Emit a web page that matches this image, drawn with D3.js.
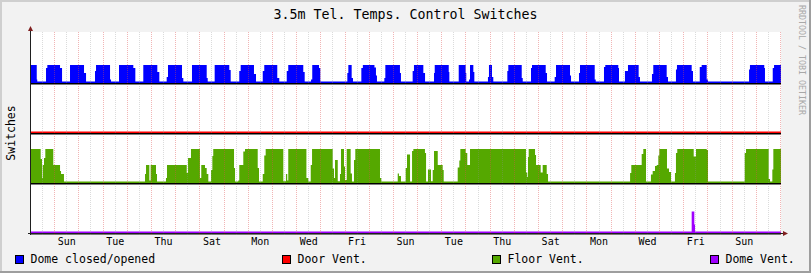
<!DOCTYPE html>
<html>
<head>
<meta charset="utf-8">
<script src="https://cdn.jsdelivr.net/npm/d3@7"></script>
<style>
  body { margin: 0; background: #f2f2f2; }
  svg { display: block; }
  text { font-family: "DejaVu Sans Mono", monospace; }
</style>
</head>
<body>
<div id="chart"></div>
<script>
// graph window: Sat 01:00 UTC + 31 days, values keyed by hours since START
const START = Date.UTC(2011, 11, 31, 1, 0);
const SPAN_HOURS = 744;

const seriesNames = ["Dome closed/opened", "Door Vent.", "Floor Vent.", "Dome Vent."];
const seriesColors = ["#0000ff", "#ff0000", "#55a800", "#9f00ff"];
const seriesOffsets = [3, 2, 1, 0];

const dayLabels = ["Sun", "Tue", "Thu", "Sat", "Mon", "Wed", "Fri",
                   "Sun", "Tue", "Thu", "Sat", "Mon", "Wed", "Fri", "Sun"];

// [hours, value] step points
const domeSwitch = [
    [0,.36],[5.7,.07],[6.2,0],
    [14.9,.3],[16.2,.36],[28.8,.3],[30.8,0],
    [38.7,.36],[52.6,.2],[54.6,0],
    [63.5,.24],[64.5,.36],[78.4,.07],[79.4,0],
    [87.3,.36],[101.5,.3],[103.5,0],
    [111.4,.36],[125.3,.22],[127.3,0],
    [134.6,.12],[135.9,.36],[149.8,.1],[151.1,0],
    [159.7,.36],[174.3,.1],[175.3,0],
    [182.2,.36],[196.7,.26],[198.1,0],
    [206.6,.24],[208,.36],[221.2,.18],[223.2,0],
    [229.9,.24],[231.4,.36],[244.3,.1],[246.3,0],
    [253.7,.24],[255.2,.36],[270.1,.22],[271.5,0],
    [277.8,.07],[279,.36],[285.7,.3],[287,0],
    [313.8,.2],[314.8,.36],[318.1,.1],[319.4,0],
    [327.7,.3],[329.2,.36],[340.7,.31],[342.2,.15],[343.2,0],
    [350.5,.1],[351.5,.36],[366,.2],[367,0],
    [378.6,.24],[379.9,.36],[389.2,.2],[390.9,0],
    [399.8,.2],[400.5,.36],[414.4,.22],[415,0],
    [424.3,.36],[431.2,.2],[431.8,0],
    [434.5,.07],[435.5,.36],[438.8,.22],[439.8,0],
    [453.3,.12],[454.3,.36],[457.3,.12],[458.6,0],
    [472.5,.24],[473.5,.36],[486.8,.1],[487.8,0],
    [496,.3],[497,.36],[510.6,.2],[511.9,0],
    [519.5,.12],[520.8,.36],[534.7,.15],[535.7,0],
    [543.6,.2],[544.6,.36],[559.2,.07],[560.2,0],
    [568.4,.32],[569.7,.36],[582.6,.3],[583.3,0],
    [589.2,.24],[592.2,.36],[602.8,.12],[604.1,0],
    [616,.18],[617.3,.36],[630.6,.12],[631.9,0],
    [639.8,.27],[640.8,.36],[655.4,.24],[656.7,0],
    [663.4,.32],[665.3,.36],[670.3,.07],[671.6,0],
    [712.3,.27],[713.2,.36],[727.4,.3],[728.1,0],
    [735.8,.3],[737.1,.36],[744,.36]
];

const doorVent = [[0,0],[744,0]];

const floorVent = [
    [0,.68],[9.6,.48],[10.9,.1],[11.6,.36],[12.9,.5],[14.2,.68],[22.1,.36],[28.8,.24],[29.8,.18],[32.7,0],
    [113.1,.18],[114.1,.36],[117.4,.05],[118.7,.36],[124,.18],[125,0],
    [133.9,.1],[134.9,.36],[154.5,.2],[155.8,.5],[158.7,.68],[167.6,.1],[168.9,.36],[172.6,.3],[174.3,.18],[175.9,0],
    [178.6,.26],[179.9,.54],[180.8,.68],[201.4,.3],[202.4,0],
    [205.6,.05],[206.6,.36],[210.6,.63],[212.3,.68],[224.9,.3],[226.2,0],
    [229.9,.18],[231.4,.55],[232.8,.68],[250.3,.03],[252.9,.18],[254.2,.05],[255.2,.68],
    [273.2,.1],[275.1,0],[277.5,.36],[278.8,.68],[299.3,.29],[300.6,.1],[301.6,.46],[304.3,.03],
    [306.5,.18],[307.5,.68],[310.5,.33],[311.5,.06],[313.2,.68],[317.1,.19],[318.4,.02],[320.4,.46],
    [321.7,.68],[346.2,.1],[347.5,0],
    [363.8,.19],[365,.14],[367,0],[371.7,.3],[373,.57],[376,0],[378,.64],[379.3,.68],[390.8,.6],[391.9,0],
    [393.8,.27],[396.8,.03],[398.5,.26],[399.8,.64],[403.5,.36],[408.4,.26],[409.4,0],
    [423.3,.31],[424.9,.45],[425.9,.68],[431.2,.6],[432.8,.36],[435.5,.68],[491,.21],[492.3,.12],
    [493,.52],[493.7,.68],[500,.56],[501,.36],[505.6,.21],[507.6,.36],[511.6,.18],[512.9,0],
    [594.3,.2],[595.5,.36],[605.8,.58],[607.4,.68],[610.1,0],[615,.17],[616.7,.24],[619,.34],
    [620.7,.36],[622.3,.55],[623.3,.68],[630.9,.29],[632.9,.22],[634.9,0],
    [638.8,.2],[639.8,.6],[641.1,.68],[657.4,.53],[659.7,.68],[670.3,.66],[671.6,0],
    [708,.6],[709.3,.68],[731.8,.08],[733.1,0],[735.4,.27],[736.4,.68],[744,.68]
];

const domeVent = [[0,0],[655.4,.43],[658,.17],[658.7,0],[744,0]];

const seriesData = [domeSwitch, doorVent, floorVent, domeVent];

const width = 811;
const height = 273;
const plotLeft = 31, plotRight = 781, plotTop = 33, plotBottom = 233;

const toDate = h => new Date(START + h * 3600e3);

const x = d3.scaleUtc()
    .domain([toDate(0), toDate(SPAN_HOURS)])
    .range([plotLeft, plotRight]);

const y = d3.scaleLinear()
    .domain([0, 4])
    .range([plotBottom, plotTop]);

const svg = d3.select("#chart").append("svg")
    .attr("width", width)
    .attr("height", height);

// background + 3d frame
svg.append("rect").attr("width", width).attr("height", height).attr("fill", "#f2f2f2");
svg.append("path").attr("d", `M1,${height} V1 H${width}`)
    .attr("fill", "none").attr("stroke", "#cfcfcf").attr("stroke-width", 2);
svg.append("path").attr("d", `M0,${height - 1} H${width - 1} V0`)
    .attr("fill", "none").attr("stroke", "#9e9e9e").attr("stroke-width", 2);

// canvas
svg.append("rect")
    .attr("x", plotLeft).attr("y", plotTop - 1)
    .attr("width", plotRight - plotLeft).attr("height", plotBottom - plotTop + 1)
    .attr("fill", "#ffffff");

// series
const area = d3.area().curve(d3.curveStepAfter);
seriesData.forEach((data, i) => {
    const off = seriesOffsets[i];
    const color = seriesColors[i];
    svg.append("line")
        .attr("x1", x(toDate(0))).attr("x2", x(toDate(SPAN_HOURS)))
        .attr("y1", y(off) - 0.75).attr("y2", y(off) - 0.75)
        .attr("stroke", color).attr("stroke-width", 1.5);
    svg.append("path")
        .attr("fill", color)
        .attr("d", area
            .x(d => x(toDate(d[0])))
            .y0(y(off))
            .y1(d => y(off + d[1]))(data));
    svg.append("line")
        .attr("x1", plotLeft).attr("x2", plotRight)
        .attr("y1", y(off) + 0.75).attr("y2", y(off) + 0.75)
        .attr("stroke", "#000").attr("stroke-width", 1.5);
});

// grid: every 12h, midnight lines red
const gridTimes = d3.utcHour.every(12).range(x.domain()[0], x.domain()[1]);
svg.append("g")
    .selectAll("line")
    .data(gridTimes)
    .join("line")
    .attr("x1", d => Math.round(x(d)) + 0.5)
    .attr("x2", d => Math.round(x(d)) + 0.5)
    .attr("y1", plotTop - 1)
    .attr("y2", plotBottom + 3)
    .attr("stroke", d => d.getUTCHours() === 0 ? "#de4f4f" : "#8f8f8f")
    .attr("stroke-opacity", d => d.getUTCHours() === 0 ? 0.42 : 0.32)
    .attr("stroke-dasharray", "1,1");

// axes
svg.append("line")
    .attr("x1", plotLeft - 0.5).attr("x2", plotLeft - 0.5)
    .attr("y1", plotBottom + 2).attr("y2", plotTop - 3)
    .attr("stroke", "#1f1f1f");
svg.append("path")
    .attr("d", `M${plotLeft - 3},${plotTop - 2} L${plotLeft + 2},${plotTop - 2} L${plotLeft - 0.5},${plotTop - 7} Z`)
    .attr("fill", "#801f1f");
svg.append("line")
    .attr("x1", plotLeft - 3).attr("x2", plotRight + 3)
    .attr("y1", plotBottom + 0.5).attr("y2", plotBottom + 0.5)
    .attr("stroke", "#1f1f1f");
svg.append("path")
    .attr("d", `M${plotRight + 2},${plotBottom - 2} L${plotRight + 2},${plotBottom + 3} L${plotRight + 7},${plotBottom + 0.5} Z`)
    .attr("fill", "#801f1f");

// day labels at noon, every 2 days from the first Sunday
const labelTimes = dayLabels.map((d, i) => new Date(Date.UTC(2012, 0, 1 + 2 * i, 12)));
const xAxis = svg.append("g")
    .attr("transform", `translate(0,${plotBottom})`)
    .call(d3.axisBottom(x)
        .tickValues(labelTimes)
        .tickFormat((d, i) => dayLabels[i])
        .tickSize(0));
xAxis.select(".domain").remove();
xAxis.selectAll("text")
    .attr("y", 12)
    .attr("dy", null)
    .attr("fill", "#000")
    .style("font-family", "'DejaVu Sans Mono', monospace")
    .style("font-size", "10px");

// title
svg.append("text")
    .attr("x", width / 2)
    .attr("y", 18.5)
    .attr("text-anchor", "middle")
    .style("font-size", "13.3px")
    .text("3.5m Tel. Temps. Control Switches");

// y label
svg.append("text")
    .attr("transform", `translate(15,${(plotTop + plotBottom) / 2}) rotate(-90)`)
    .attr("text-anchor", "middle")
    .style("font-size", "11.5px")
    .text("Switches");

// watermark
svg.append("text")
    .attr("transform", "translate(798.7,5) rotate(90)")
    .attr("fill", "#a8a8a8")
    .style("font-size", "8.3px")
    .text("RRDTOOL / TOBI OETIKER");

// legend
const legendX = [15, 282, 492, 710];
const legend = svg.append("g");
seriesNames.forEach((name, i) => {
    legend.append("rect")
        .attr("x", legendX[i] + 0.5).attr("y", 255.5)
        .attr("width", 8).attr("height", 8)
        .attr("fill", seriesColors[i])
        .attr("stroke", "#000").attr("stroke-width", 1);
    legend.append("text")
        .attr("x", legendX[i] + 15.5)
        .attr("y", 263)
        .style("font-size", "11.5px")
        .text(name);
});
</script>
</body>
</html>
